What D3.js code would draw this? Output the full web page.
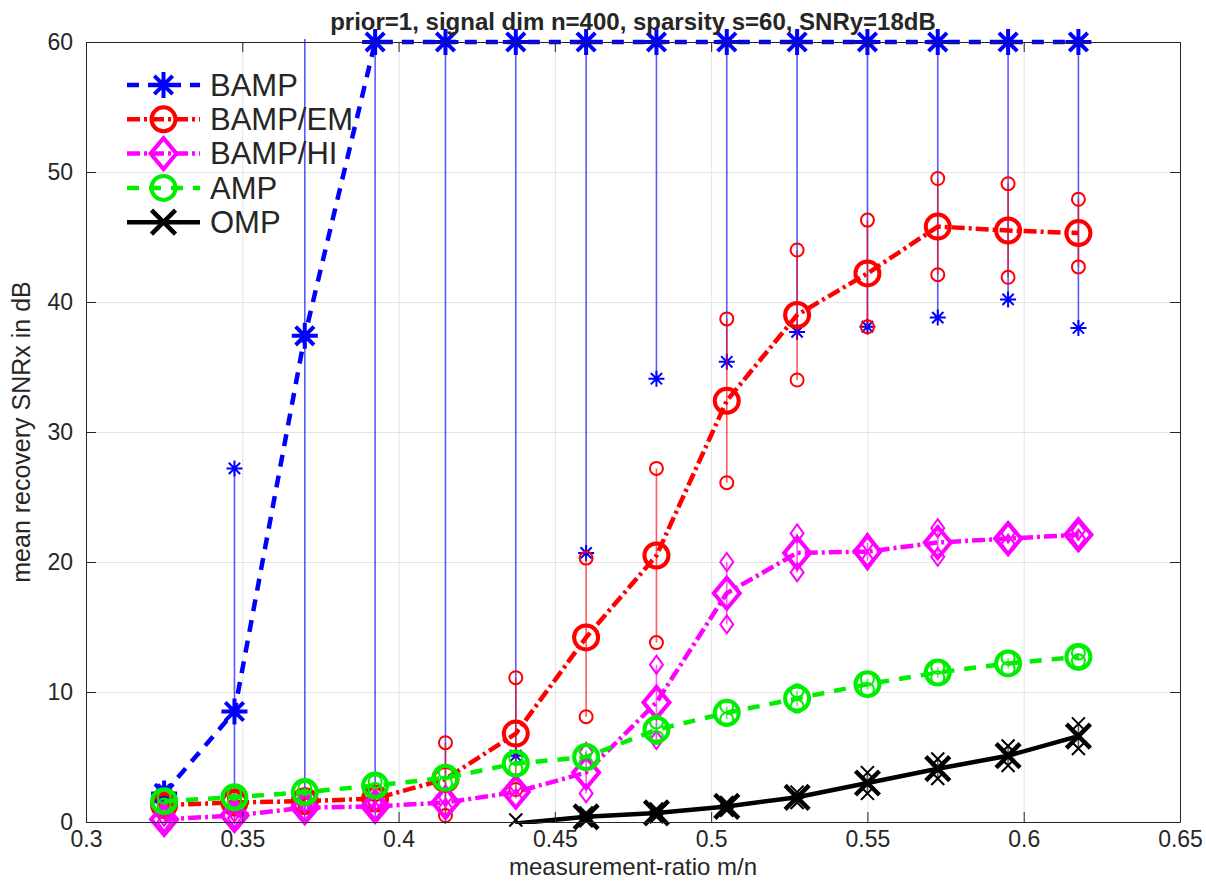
<!DOCTYPE html>
<html>
<head>
<meta charset="utf-8">
<script src="https://cdn.jsdelivr.net/npm/d3@7"></script>
<style>
  body { margin: 0; background: #fff; }
  text { font-family: "Liberation Sans", Arial, sans-serif; fill: #262626; }
</style>
</head>
<body>
<script>
// measurement ratios m/n (m = 130, 139, ... 247, n = 400)
var ratio = [0.325, 0.3475, 0.37, 0.3925, 0.415, 0.4375, 0.46, 0.4825, 0.505, 0.5275, 0.55, 0.5725, 0.595, 0.6175];

// mean recovery SNRx (dB) and spread for each method
var bampMean = [2.2, 8.5, 37.4, 60, 60, 60, 60, 60, 60, 60, 60, 60, 60, 60];
var bampStd  = [0.3, 18.7, 45, 65, 62, 54.9, 39.3, 25.9, 24.6, 22.3, 21.9, 21.2, 19.8, 22.0];
var emMean   = [1.3, 1.5, 1.6, 1.8, 3.3, 6.8, 14.2, 20.5, 32.4, 39.0, 42.2, 45.8, 45.5, 45.3];
var emStd    = [0.3, 0.3, 0.3, 0.3, 2.8, 4.3, 6.1, 6.7, 6.3, 5.0, 4.1, 3.7, 3.6, 2.6];
var hiMean   = [0.2, 0.5, 1.1, 1.2, 1.5, 2.3, 3.8, 9.2, 17.6, 20.7, 20.8, 21.5, 21.8, 22.1];
var hiStd    = [0.2, 0.2, 0.3, 0.3, 0.4, 0.5, 1.6, 2.9, 2.4, 1.5, 0.7, 1.1, 0.4, 0.3];
var ampMean  = [1.6, 1.9, 2.3, 2.8, 3.4, 4.5, 5.0, 7.1, 8.4, 9.5, 10.6, 11.5, 12.2, 12.7];
var ampStd   = [0.3, 0.3, 0.3, 0.3, 0.4, 0.4, 0.5, 0.6, 0.5, 0.6, 0.4, 0.4, 0.4, 0.3];
var ompMean  = [null, null, null, null, null, -0.12, 0.4, 0.7, 1.2, 1.9, 3.0, 4.1, 5.1, 6.6];
var ompStd   = [null, null, null, null, null, 0.27, 0.3, 0.3, 0.3, 0.4, 0.8, 0.75, 0.75, 0.95];

var seriesNames = ["BAMP", "BAMP/EM", "BAMP/HI", "AMP", "OMP"];
var xTicks = [0.3, 0.35, 0.4, 0.45, 0.5, 0.55, 0.6, 0.65];
var yTicks = [0, 10, 20, 30, 40, 50, 60];
var titleText = "prior=1, signal dim n=400, sparsity s=60, SNRy=18dB";

var W = 1206, H = 882;
var margin = { top: 42, right: 26, bottom: 60, left: 86 };
var width = W - margin.left - margin.right,
  height = H - margin.top - margin.bottom;

var x = d3.scaleLinear().domain([0.3, 0.65]).range([0, width]);
var y = d3.scaleLinear().domain([0, 60]).range([height, 0]);

var svg = d3.select("body").append("svg")
  .attr("width", W)
  .attr("height", H);

var g = svg.append("g")
  .attr("transform", "translate(" + margin.left + "," + margin.top + ")");

// marker shapes
function starPath(s) {
  var h = s / 2, d = h * 0.7071;
  return "M" + (-h) + ",0L" + h + ",0M0," + (-h) + "L0," + h +
    "M" + (-d) + "," + (-d) + "L" + d + "," + d + "M" + (-d) + "," + d + "L" + d + "," + (-d);
}
function crossPath(s) {
  var h = s / 2;
  return "M" + (-h) + "," + (-h) + "L" + h + "," + h + "M" + (-h) + "," + h + "L" + h + "," + (-h);
}
function diamondPath(w, hgt) {
  var a = w / 2, b = hgt / 2;
  return "M0," + (-b) + "L" + a + ",0L0," + b + "L" + (-a) + ",0Z";
}
function circlePath(r) {
  return "M" + r + ",0A" + r + "," + r + " 0 1,1 " + (-r) + ",0A" + r + "," + r + " 0 1,1 " + r + ",0Z";
}

var series = [
  { name: seriesNames[0], mean: bampMean, std: bampStd, color: "#0000ff", dash: "12,9",
    big: starPath(26), small: starPath(16), bigW: 4, smallW: 2 },
  { name: seriesNames[1], mean: emMean, std: emStd, color: "#ff0000", dash: "13,4,3,4",
    big: circlePath(12), small: circlePath(6.5), bigW: 4, smallW: 2 },
  { name: seriesNames[2], mean: hiMean, std: hiStd, color: "#ff00ff", dash: "13,4,3,4",
    big: diamondPath(26, 31), small: diamondPath(13, 18), bigW: 4, smallW: 2 },
  { name: seriesNames[3], mean: ampMean, std: ampStd, color: "#00ee00", dash: "12,10",
    big: circlePath(12), small: circlePath(6.5), bigW: 4, smallW: 2 },
  { name: seriesNames[4], mean: ompMean, std: ompStd, color: "#000000", dash: null,
    big: crossPath(24), small: crossPath(13), bigW: 4.5, smallW: 2 }
];

// grid
g.append("g")
  .attr("transform", "translate(0," + height + ")")
  .call(d3.axisBottom(x).tickValues(xTicks).tickSize(-height).tickFormat(""))
  .call(function (a) { a.select(".domain").remove(); })
  .selectAll("line").attr("stroke", "#e3e3e3");
g.append("g")
  .call(d3.axisLeft(y).tickValues(yTicks).tickSize(-width).tickFormat(""))
  .call(function (a) { a.select(".domain").remove(); })
  .selectAll("line").attr("stroke", "#e3e3e3");

// clip for lines
svg.append("defs").append("clipPath").attr("id", "plotclip")
  .append("rect").attr("x", -2).attr("y", -3).attr("width", width + 4).attr("height", height + 5);

var plot = g.append("g");
var inRange = function (v) { return v != null && v >= -0.01 && v <= 60.01; };

series.forEach(function (s) {
  var pts = ratio.map(function (r, i) { return { r: r, m: s.mean[i], sd: s.std[i] }; })
    .filter(function (d) { return d.m != null; });

  // error bars
  plot.append("g").attr("clip-path", "url(#plotclip)")
    .selectAll("line").data(pts).enter().append("line")
    .attr("x1", function (d) { return x(d.r); })
    .attr("x2", function (d) { return x(d.r); })
    .attr("y1", function (d) { return y(d.m - d.sd); })
    .attr("y2", function (d) { return y(d.m + d.sd); })
    .attr("stroke", s.color)
    .attr("stroke-opacity", 0.65)
    .attr("stroke-width", 1.6);

  var ends = [];
  pts.forEach(function (d) { ends.push({ r: d.r, v: d.m - d.sd }); ends.push({ r: d.r, v: d.m + d.sd }); });
  plot.append("g").selectAll("path").data(ends.filter(function (e) { return inRange(e.v); }))
    .enter().append("path")
    .attr("transform", function (e) { return "translate(" + x(e.r) + "," + y(e.v) + ")"; })
    .attr("d", s.small)
    .attr("fill", "none")
    .attr("stroke", s.color)
    .attr("stroke-width", s.smallW);

  // mean line
  plot.append("path")
    .datum(pts)
    .attr("clip-path", "url(#plotclip)")
    .attr("fill", "none")
    .attr("stroke", s.color)
    .attr("stroke-width", 4.5)
    .attr("stroke-dasharray", s.dash)
    .attr("d", d3.line().x(function (d) { return x(d.r); }).y(function (d) { return y(d.m); }));

  plot.append("g").selectAll("path").data(pts.filter(function (d) { return inRange(d.m); }))
    .enter().append("path")
    .attr("transform", function (d) { return "translate(" + x(d.r) + "," + y(d.m) + ")"; })
    .attr("d", s.big)
    .attr("fill", "none")
    .attr("stroke", s.color)
    .attr("stroke-width", s.bigW);
});

// axes (box with inward ticks)
var axCol = "#262626";
var xAxis = g.append("g")
  .attr("transform", "translate(0," + height + ")")
  .call(d3.axisBottom(x).tickValues(xTicks).tickSize(-10).tickSizeOuter(0).tickPadding(9)
    .tickFormat(function (d) { return String(+d.toFixed(2)); }));
var yAxis = g.append("g")
  .call(d3.axisLeft(y).tickValues(yTicks).tickSize(-10).tickSizeOuter(0).tickPadding(13));
var xTop = g.append("g")
  .call(d3.axisTop(x).tickValues(xTicks).tickSize(-10).tickSizeOuter(0).tickFormat(""));
var yRight = g.append("g")
  .attr("transform", "translate(" + width + ",0)")
  .call(d3.axisRight(y).tickValues(yTicks).tickSize(-10).tickSizeOuter(0).tickFormat(""));
[xAxis, yAxis, xTop, yRight].forEach(function (a) {
  a.selectAll("path, line").attr("stroke", axCol).attr("stroke-width", 1);
  a.selectAll("text").attr("font-size", 23).attr("fill", axCol)
    .attr("font-family", "Liberation Sans, Arial, sans-serif");
});

// labels
svg.append("text")
  .attr("x", margin.left + width / 2)
  .attr("y", 875)
  .attr("text-anchor", "middle")
  .attr("font-size", 24)
  .text("measurement-ratio m/n");

svg.append("text")
  .attr("transform", "translate(30," + (margin.top + height / 2) + ") rotate(-90)")
  .attr("text-anchor", "middle")
  .attr("font-size", 25)
  .text("mean recovery SNRx in dB");

svg.append("text")
  .attr("x", margin.left + width / 2)
  .attr("y", 30)
  .attr("text-anchor", "middle")
  .attr("font-size", 24)
  .attr("font-weight", "bold")
  .attr("fill", "#111")
  .text(titleText);

// legend
var legend = g.append("g").attr("transform", "translate(41,43)");
series.forEach(function (s, i) {
  var row = legend.append("g").attr("transform", "translate(0," + (i * 34.3) + ")");
  row.append("line")
    .attr("x1", 0).attr("x2", 73)
    .attr("stroke", s.color)
    .attr("stroke-width", 4.5)
    .attr("stroke-dasharray", s.dash);
  row.append("path")
    .attr("transform", "translate(36.5,0)")
    .attr("d", s.big)
    .attr("fill", "none")
    .attr("stroke", s.color)
    .attr("stroke-width", s.bigW);
  row.append("text")
    .attr("x", 83)
    .attr("dy", "0.35em")
    .attr("font-size", 31)
    .attr("fill", "#000")
    .text(s.name);
});
</script>
</body>
</html>
